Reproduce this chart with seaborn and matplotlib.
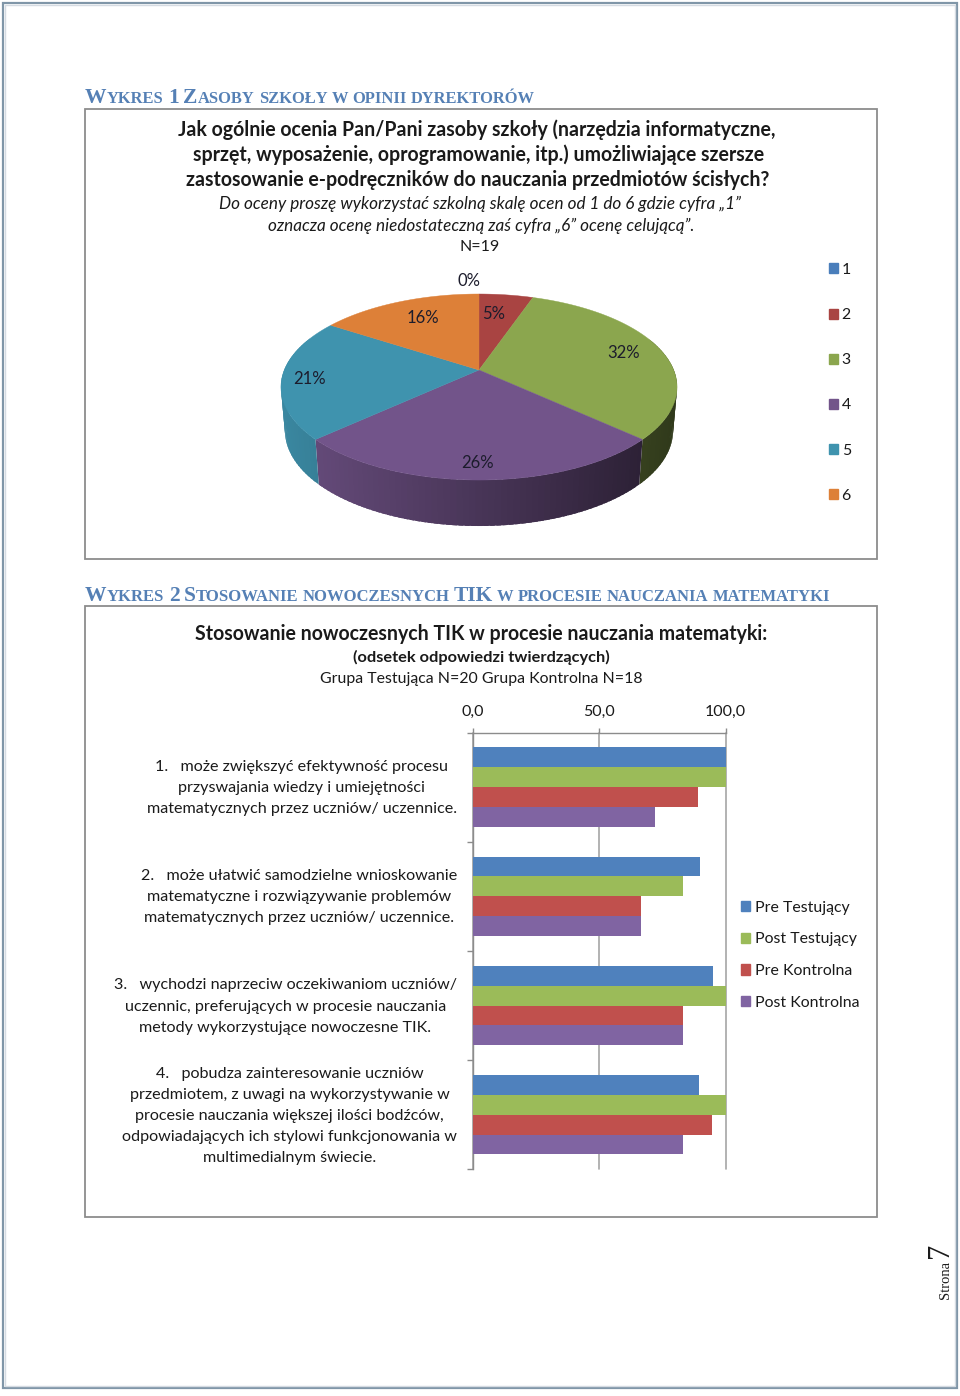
import numpy as np
import pandas as pd
import matplotlib
matplotlib.use("Agg")
import matplotlib.pyplot as plt
from matplotlib.patches import Patch, Rectangle
from matplotlib.transforms import ScaledTranslation
import seaborn as sns

# Dane - wykres 1
ocena_labels = ["1", "2", "3", "4", "5", "6"]
ocena_counts = [0, 1, 6, 5, 4, 3]
ocena_colors = ["#4a7ebb", "#a94442", "#8ba64e", "#72548a", "#3f93ae", "#dd8038"]
label_pos = [(469, 281), (494, 314), (624, 353), (478, 463), (310, 379), (423, 318)]

# Dane - wykres 2
pytania = [
    "1.   może zwiększyć efektywność procesu\nprzyswajania wiedzy i umiejętności\nmatematycznych przez uczniów/ uczennice.",
    "2.   może ułatwić samodzielne wnioskowanie\nmatematyczne i rozwiązywanie problemów\nmatematycznych przez uczniów/ uczennice.",
    "3.   wychodzi naprzeciw oczekiwaniom uczniów/\nuczennic, preferujących w procesie nauczania\nmetody wykorzystujące nowoczesne TIK.",
    "4.   pobudza zainteresowanie uczniów\nprzedmiotem, z uwagi na wykorzystywanie w\nprocesie nauczania większej ilości bodźców,\nodpowiadających ich stylowi funkcjonowania w\nmultimedialnym świecie.",
]
pre_test = [100.0, 90.0, 95.0, 89.5]
post_test = [100.0, 83.3, 100.0, 100.0]
pre_kontr = [88.9, 66.7, 83.3, 94.4]
post_kontr = [72.2, 66.7, 83.3, 83.3]
serie = ["Pre Testujący", "Post Testujący", "Pre Kontrolna", "Post Kontrolna"]
serie_colors = ["#4f81bd", "#9bbb59", "#c0504d", "#8064a2"]
x_ticks = [0, 50, 100]
x_tick_labels = ["0,0", "50,0", "100,0"]

sns.set_theme(style="white")
plt.rcParams["font.family"] = ["Lato", "DejaVu Sans"]
W, H = 960, 1396
TXT = "#1a1a1a"
HEAD = "#5580b5"
SERIF = ["Liberation Serif", "DejaVu Serif"]

fig = plt.figure(figsize=(W / 100, H / 100), dpi=100, facecolor="white")

# strona w pikselach
page = fig.add_axes([0, 0, 1, 1])
page.set_xlim(0, W)
page.set_ylim(H, 0)
page.axis("off")

# ramka strony
page.add_patch(Rectangle((3, 3), 954, 1385, fill=False, ec="#8096a8", lw=1.6))
page.add_patch(Rectangle((5, 5), 950, 1381, fill=False, ec="#d5dbe2", lw=1))

# ramki wykresów
page.add_patch(Rectangle((85, 109), 792, 450, fc="white", ec="#8c8c8c", lw=1.3))
page.add_patch(Rectangle((85, 606), 792, 611, fc="white", ec="#8c8c8c", lw=1.3))


def smallcaps(x, y, text, big=15.5, small=12.0, spacja=3.6):
    # kapitaliki składane z kawałków tekstu
    r = fig.canvas.get_renderer()
    tokens = []
    for ch in text:
        kind = "s" if ch == " " else ("l" if ch.islower() else "u")
        if tokens and tokens[-1][0] == kind:
            tokens[-1][1] += ch
        else:
            tokens.append([kind, ch])
    for kind, tok in tokens:
        if kind == "s":
            x += spacja * len(tok)
            continue
        t = page.text(x, y, tok.upper(), family=SERIF, weight="bold", color=HEAD,
                      fontsize=big if kind == "u" else small, va="baseline", ha="left")
        x += t.get_window_extent(r).width + 0.6


smallcaps(85, 103, "Wykres 1 Zasoby szkoły w opinii dyrektorów", small=11.9, spacja=3.5)
smallcaps(85, 601, "Wykres 2 Stosowanie nowoczesnych TIK w procesie nauczania matematyki")

# tytuły wykresu 1
tytul1 = [
    ("Jak ogólnie ocenia Pan/Pani zasoby szkoły (narzędzia informatyczne,", 477, 129.5, 14.05, "bold", "normal"),
    ("sprzęt, wyposażenie, oprogramowanie, itp.) umożliwiające szersze", 479, 154.5, 14.05, "bold", "normal"),
    ("zastosowanie e-podręczników do nauczania przedmiotów ścisłych?", 478, 180.5, 14.05, "bold", "normal"),
    ("Do oceny proszę wykorzystać szkolną skalę ocen od 1 do 6 gdzie cyfra „1”", 480, 204, 12.3, "normal", "italic"),
    ("oznacza ocenę niedostateczną zaś cyfra „6” ocenę celującą”.", 481, 226, 12.3, "normal", "italic"),
    ("N=19", 480, 247, 11.5, "normal", "normal"),
]
for s, x, y, fs, w, st in tytul1:
    page.text(x, y, s, ha="center", va="center", fontsize=fs, weight=w, style=st, color=TXT)

# tytuły wykresu 2
tytul2 = [
    ("Stosowanie nowoczesnych TIK w procesie nauczania matematyki:", 481, 634.5, 14.05, "bold"),
    ("(odsetek odpowiedzi twierdzących)", 481, 657, 11.75, "bold"),
    ("Grupa Testująca N=20 Grupa Kontrolna N=18", 481, 679, 11.4, "normal"),
]
for s, x, y, fs, w in tytul2:
    page.text(x, y, s, ha="center", va="center", fontsize=fs, weight=w, color=TXT)

# stopka
page.text(946, 1280, "Strona", rotation=90, ha="center", va="center", family=SERIF, fontsize=10.5, color=TXT)
page.text(941, 1250, "7", rotation=90, ha="center", va="center", family=SERIF, fontsize=22, color=TXT)

# --------------------------------------
# WYKRES 1 - kołowy "3D" z perspektywą
cx, cy = 479, 370
a, b, k = 89.9, 194.7, 0.183
depth = 43


def rzut(theta, skala=1.0, dy=0.0):
    # kąt mierzony od góry, zgodnie z ruchem wskazówek zegara
    u, v = np.sin(theta), np.cos(theta)
    w = 1 + k * v
    return cx + skala * b * u / w, cy - a * v / w + dy


def ciemniej(col, f):
    return tuple(c * f for c in matplotlib.colors.to_rgb(col))


udzialy = np.array(ocena_counts) / sum(ocena_counts)
granice = np.concatenate([[0], np.cumsum(udzialy)]) * 2 * np.pi

# najpierw ścianka boczna, wierzch ją przykrywa
for i, col in enumerate(ocena_colors):
    if ocena_counts[i] == 0:
        continue
    kroki = np.linspace(granice[i], granice[i + 1], int(ocena_counts[i] * 12) + 2)
    for t0, t1 in zip(kroki[:-1], kroki[1:]):
        if np.cos((t0 + t1) / 2) > 0.35:
            continue
        t1b = min(t1 + 0.02, granice[i + 1])
        x0, y0 = rzut(t0)
        x1, y1 = rzut(t1b)
        x2, y2 = rzut(t1b, 0.98, depth - 3 * np.cos(t1b))
        x3, y3 = rzut(t0, 0.98, depth - 3 * np.cos(t0))
        f = 0.92 - 0.58 * ((x0 + x1) / 2 - (cx - 198)) / 396
        c = ciemniej(col, f)
        page.fill([x0, x1, x2, x3], [y0, y1, y2, y3], color=c, lw=0, zorder=2)

# wierzch koła
for i, col in enumerate(ocena_colors):
    if ocena_counts[i] == 0:
        continue
    t = np.linspace(granice[i], granice[i + 1], 120)
    xs, ys = rzut(t)
    page.fill(np.r_[cx, xs], np.r_[cy, ys], color=col, lw=0.3, zorder=3)

for n, (px, py) in zip(ocena_counts, label_pos):
    page.text(px, py, f"{round(100 * n / sum(ocena_counts))}%", ha="center", va="center",
              fontsize=12, color="#1c1c2c", zorder=5)

leg1 = page.legend(
    handles=[Patch(color=c, label=l) for c, l in zip(ocena_colors, ocena_labels)],
    loc="upper left", bbox_to_anchor=(821 / W, 1 - 255 / H), frameon=False,
    fontsize=11.4, handlelength=0.6, handleheight=0.6, handletextpad=0.2,
    labelspacing=1.97, labelcolor=TXT, borderpad=0.5, borderaxespad=0,
)

# --------------------------------------
# WYKRES 2 - słupkowy
df = pd.DataFrame({
    "pytanie": np.repeat(pytania, 4),
    "seria": serie * 4,
    "odsetek": np.array([pre_test, post_test, pre_kontr, post_kontr]).T.ravel(),
})

x0, x1, y0, y1 = 472.5, 725.7, 732.5, 1169.3
ax = fig.add_axes([x0 / W, 1 - y1 / H, (x1 - x0) / W, (y1 - y0) / H])
ax.patch.set_alpha(0)
sns.barplot(data=df, y="pytanie", x="odsetek", hue="seria", hue_order=serie,
            palette=serie_colors, saturation=1, width=0.728, gap=0, orient="h",
            legend=False, ax=ax, zorder=3, linewidth=0)
ax.set_xlim(0, 100)
ax.set_ylim(3.5, -0.5)
ax.set_xlabel("")
ax.set_ylabel("")
ax.xaxis.tick_top()
ax.set_xticks(x_ticks, x_tick_labels)
ax.set_yticks(range(4), pytania, multialignment="center", linespacing=1.64)
ax.set_yticks(np.arange(-0.5, 4), minor=True)
ax.grid(True, axis="x", color="#a6a6a6", lw=1.2, zorder=0, clip_on=False)
ax.set_axisbelow(True)
ax.tick_params(axis="x", colors="#8c8c8c", labelcolor=TXT, length=3.5, width=1, pad=6.5, labelsize=11.5, top=True)
ax.tick_params(axis="y", which="major", length=0, pad=11.2, labelsize=11.6, labelcolor=TXT)
ax.tick_params(axis="y", which="minor", length=4, width=1, color="#8c8c8c", left=True)
# etykiety wielowierszowe o 4 px wyżej
for lab in ax.get_yticklabels():
    lab.set_transform(lab.get_transform() + ScaledTranslation(0, 0.04, fig.dpi_scale_trans))
for name in ["right", "bottom"]:
    ax.spines[name].set_visible(False)
for name in ["left", "top"]:
    ax.spines[name].set_color("#8c8c8c")
    ax.spines[name].set_linewidth(1)

page.legend(
    handles=[Patch(color=c, label=l) for c, l in zip(serie_colors, serie)],
    loc="upper left", bbox_to_anchor=(733 / W, 1 - 893 / H), frameon=False,
    fontsize=11.4, handlelength=0.6, handleheight=0.6, handletextpad=0.3,
    labelspacing=1.11, labelcolor=TXT, borderpad=0.5, borderaxespad=0,
)
page.add_artist(leg1)

fig.savefig("out.png", dpi=100)
